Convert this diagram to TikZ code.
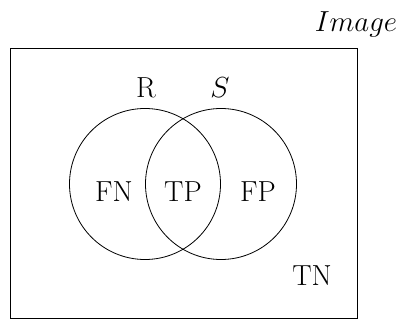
\RequirePackage{fix-cm}
\documentclass[tikz,border=0pt]{standalone}
% large labels: set at 24.88pt, enlarged to 29pt
\newcommand{\bigtxt}[1]{\scalebox{1.1656}{#1}}
\begin{document}
\begin{tikzpicture}[x=1pt,y=-1pt,
  lbl/.style={inner sep=0pt,font=\fontsize{24.88}{30}\selectfont},
  mlbl/.style={inner sep=0pt,font=\fontsize{29}{34}\selectfont},
  setcirc/.style={draw,circle,line width=0.8pt,minimum size=151pt,inner sep=0pt}]
\useasboundingbox (0,0) rectangle (404,320);
% universe
\draw[line width=0.9pt] (10,48) rectangle (357,318.5);
\node[mlbl,anchor=base] (img) at (356,32) {$Image$};
% the two sets
\node[setcirc] (R) at (145,184) {};
\node[setcirc] (S) at (221,184) {};
\node[lbl,anchor=base] (rl) at (146,98) {\bigtxt{R}};
\node[mlbl,anchor=base] (sl) at (220,98) {$S$};
% regions
\node[lbl,anchor=base] (fn) at (114,202) {\bigtxt{FN}};
\node[lbl,anchor=base] (tp) at (183,202) {\bigtxt{TP}};
\node[lbl,anchor=base] (fp) at (258,202) {\bigtxt{FP}};
\node[lbl,anchor=base] (tn) at (312,285) {\bigtxt{TN}};
\end{tikzpicture}
\end{document}
